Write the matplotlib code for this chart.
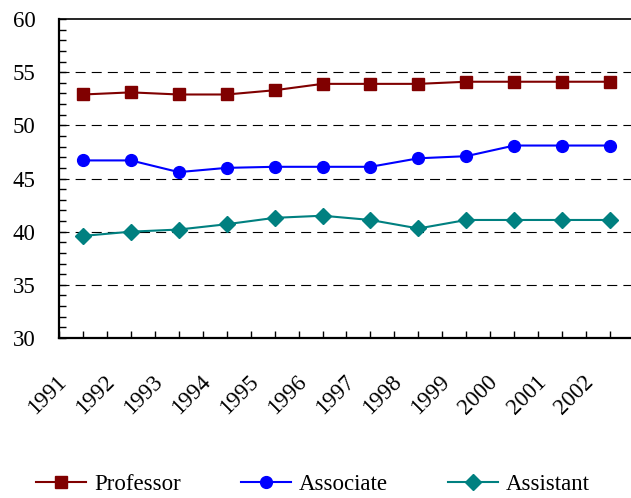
import matplotlib
matplotlib.use("Agg")
import matplotlib.pyplot as plt
from matplotlib.ticker import MultipleLocator
import matplotlib.transforms as mtransforms

years = ["1991", "1992", "1993", "1994", "1995", "1996",
         "1997", "1998", "1999", "2000", "2001", "2002"]
professor = [52.9, 53.1, 52.9, 52.9, 53.3, 53.9, 53.9, 53.9, 54.1, 54.1, 54.1, 54.1]
associate = [46.7, 46.7, 45.6, 46.0, 46.1, 46.1, 46.1, 46.9, 47.1, 48.1, 48.1, 48.1]
assistant = [39.6, 40.0, 40.2, 40.7, 41.3, 41.5, 41.1, 40.3, 41.1, 41.1, 41.1, 41.1]

plt.rcParams['font.family'] = ['Liberation Serif', 'DejaVu Serif']

fig = plt.figure(figsize=(6.31, 4.98), dpi=100)
ax = fig.add_axes([59/631, 1 - 338/498, 575/631, (338 - 19)/498])

x = list(range(len(years)))
ax.plot(x, professor, color='#800000', lw=1.5, marker='s', ms=8, label='Professor', zorder=3)
ax.plot(x, associate, color='#0000FF', lw=1.5, marker='o', ms=8.5, label='Associate', zorder=3)
ax.plot(x, assistant, color='#008080', lw=1.5, marker='D', ms=8, label='Assistant', zorder=3)

for g in [35, 40, 45, 50, 55]:
    ax.axhline(g, color='black', lw=0.8, dashes=(9, 5.5), zorder=1)

ax.set_ylim(30, 60)
ax.set_xlim(-0.5, 11.5)
ax.yaxis.set_major_locator(MultipleLocator(5))
ax.yaxis.set_minor_locator(MultipleLocator(1))
ax.set_xticks(x)
ax.set_xticks([i - 0.5 for i in x] + [11.5], minor=True)
ax.set_xticklabels(years)

ax.tick_params(axis='y', which='both', direction='in', length=5, width=1, labelsize=16.5, pad=17)
ax.tick_params(axis='x', which='both', direction='in', length=5, width=1, labelsize=16.5, pad=24)

offset = mtransforms.ScaledTranslation(-0.12, 0, fig.dpi_scale_trans)
for lab in ax.get_xticklabels():
    lab.set_rotation(45)
    lab.set_ha('right')
    lab.set_va('top')
    lab.set_transform(lab.get_transform() + offset)

ax.spines['right'].set_visible(False)
ax.spines['left'].set_linewidth(1.6)
ax.spines['bottom'].set_linewidth(1.6)
ax.spines['top'].set_linewidth(1.2)

fig.legend(loc='center left', bbox_to_anchor=(36/631, 1 - 484/498), ncol=3,
           frameon=False, fontsize=16.5, handlelength=2.2, handletextpad=0.35,
           columnspacing=2.6, borderaxespad=0, borderpad=0)

fig.savefig('out.png', dpi=100)
